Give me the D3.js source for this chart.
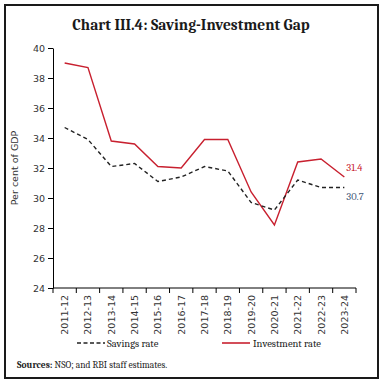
<!DOCTYPE html>
<html>
<head>
<meta charset="utf-8">
<script src="https://cdn.jsdelivr.net/npm/d3@7"></script>
<style>
  body { margin: 0; background: #fff; }
</style>
</head>
<body>
<div id="chart"></div>
<script>
// chart data
const years = ["2011-12", "2012-13", "2013-14", "2014-15", "2015-16", "2016-17", "2017-18",
    "2018-19", "2019-20", "2020-21", "2021-22", "2022-23", "2023-24"];
const savingsRate = [34.7, 33.9, 32.1, 32.3, 31.1, 31.4, 32.1, 31.8, 29.7, 29.2, 31.2, 30.7, 30.7];
const investmentRate = [39.0, 38.7, 33.8, 33.6, 32.1, 32.0, 33.9, 33.9, 30.4, 28.2, 32.4, 32.6, 31.4];
const yTicks = [24, 26, 28, 30, 32, 34, 36, 38, 40];

const W = 384, H = 385;
const margin = { top: 48, right: 28, bottom: 97, left: 53 },
    width = W - margin.left - margin.right,
    height = H - margin.top - margin.bottom;

const serif = "Cambria, 'DejaVu Serif', 'Liberation Serif', serif";
const sans = "Tahoma, 'DejaVu Sans', Verdana, sans-serif";
const red = "#c8202f";

const root = d3.select("#chart")
    .append("svg")
    .attr("width", W)
    .attr("height", H);

// frame
root.append("rect")
    .attr("x", 5).attr("y", 5)
    .attr("width", 373).attr("height", 373)
    .attr("fill", "none")
    .attr("stroke", "#1a1a1a")
    .attr("stroke-width", 2);

root.append("text")
    .attr("x", 191).attr("y", 30)
    .attr("text-anchor", "middle")
    .style("font-family", serif)
    .style("font-weight", "bold")
    .style("font-size", "15.5px")
    .attr("fill", "#1a1a1a")
    .text("Chart III.4: Saving-Investment Gap");

const svg = root.append("g")
    .attr("transform", `translate(${margin.left}, ${margin.top})`);

const x = d3.scaleBand()
    .domain(years)
    .range([0, width]);

const y = d3.scaleLinear()
    .domain([24, 40])
    .range([height, 0]);

// Y axis
const yAxis = svg.append("g")
    .call(d3.axisLeft(y).tickValues(yTicks).tickSize(5).tickSizeOuter(0));
yAxis.selectAll("text")
    .style("font-family", sans)
    .style("font-size", "9.5px")
    .attr("fill", "#333");
yAxis.select(".domain").attr("stroke", "#000");

// X axis, ticks on band edges
const xAxis = svg.append("g")
    .attr("transform", `translate(0, ${height})`);
xAxis.append("line")
    .attr("x1", 0).attr("x2", width)
    .attr("stroke", "#000");
xAxis.selectAll("line.tick")
    .data(years.concat(["end"]))
    .join("line")
    .attr("class", "tick")
    .attr("x1", (d, i) => i * x.step())
    .attr("x2", (d, i) => i * x.step())
    .attr("y1", 0).attr("y2", 5)
    .attr("stroke", "#000");
xAxis.selectAll("text")
    .data(years)
    .join("text")
    .attr("transform", d => `translate(${x(d) + x.bandwidth() / 2 + 3.5}, 7) rotate(-90)`)
    .attr("text-anchor", "end")
    .style("font-family", sans)
    .style("font-size", "9.5px")
    .attr("fill", "#333")
    .text(d => d);

// y axis label
svg.append("text")
    .attr("transform", `translate(-35, ${height / 2}) rotate(-90)`)
    .attr("text-anchor", "middle")
    .style("font-family", sans)
    .style("font-size", "9.5px")
    .attr("fill", "#333")
    .text("Per cent of GDP");

const line = d3.line()
    .x((d, i) => x(years[i]) + x.bandwidth() / 2)
    .y(d => y(d));

svg.append("path")
    .datum(investmentRate)
    .attr("fill", "none")
    .attr("stroke", red)
    .attr("stroke-width", 1.4)
    .attr("d", line);

svg.append("path")
    .datum(savingsRate)
    .attr("fill", "none")
    .attr("stroke", "#222")
    .attr("stroke-width", 1.4)
    .attr("stroke-dasharray", "4,3")
    .attr("d", line);

// end labels
const last = years.length - 1;
svg.append("text")
    .attr("x", x(years[last]) + x.bandwidth() / 2 + 2)
    .attr("y", y(investmentRate[last]) - 6)
    .style("font-family", serif)
    .style("font-size", "10.5px")
    .attr("fill", red)
    .text(investmentRate[last].toFixed(1));
svg.append("text")
    .attr("x", x(years[last]) + x.bandwidth() / 2 + 2)
    .attr("y", y(savingsRate[last]) + 12)
    .style("font-family", serif)
    .style("font-size", "10.5px")
    .attr("fill", "#3f5878")
    .text(savingsRate[last].toFixed(1));

// legend
const legend = root.append("g").attr("transform", "translate(0, 343)");
legend.append("line")
    .attr("x1", 77).attr("x2", 105)
    .attr("stroke", "#222").attr("stroke-width", 1.6)
    .attr("stroke-dasharray", "4,2.5");
legend.append("text")
    .attr("x", 107).attr("y", 3.5)
    .style("font-family", serif).style("font-size", "10.5px")
    .attr("fill", "#222")
    .text("Savings rate");
legend.append("line")
    .attr("x1", 222).attr("x2", 250)
    .attr("stroke", red).attr("stroke-width", 1.6);
legend.append("text")
    .attr("x", 253).attr("y", 3.5)
    .style("font-family", serif).style("font-size", "10.5px")
    .attr("fill", "#222")
    .text("Investment rate");

// source note
const src = root.append("text")
    .attr("x", 17).attr("y", 368)
    .style("font-family", serif).style("font-size", "9.5px")
    .attr("fill", "#222");
src.append("tspan").style("font-weight", "bold").text("Sources:");
src.append("tspan").text(" NSO; and RBI staff estimates.");
</script>
</body>
</html>
